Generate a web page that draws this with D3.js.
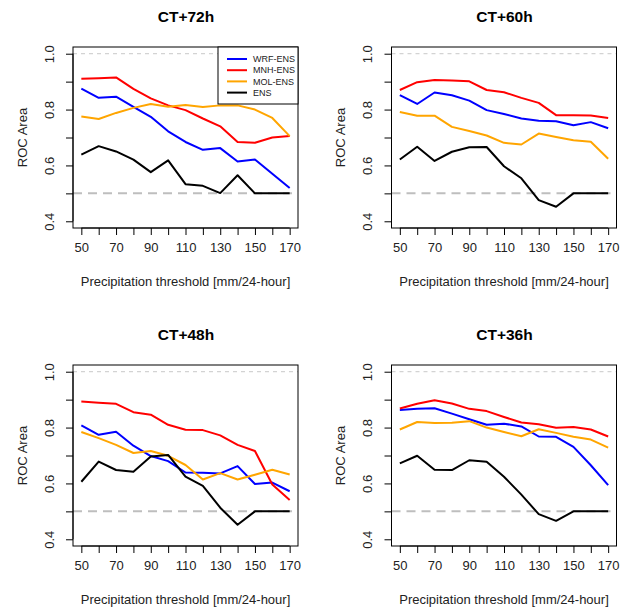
<!DOCTYPE html>
<html>
<head>
<meta charset="utf-8">
<script src="https://cdn.jsdelivr.net/npm/d3@7"></script>
<style>
  body { margin: 0; background: #fff; }
  svg { display: block; font-family: "Liberation Sans", Arial, Helvetica, sans-serif; }
</style>
</head>
<body>
<svg id="chart" width="631" height="608"></svg>
<script>
// thresholds (mm/24-hour)
const thresholds = [50, 60, 70, 80, 90, 100, 110, 120, 130, 140, 150, 160, 170];
const seriesNames = ['WRF-ENS', 'MNH-ENS', 'MOL-ENS', 'ENS'];
const seriesColors = ['#0000ff', '#ff0000', '#ffa500', '#000000'];
const panelTitles = ['CT+72h', 'CT+60h', 'CT+48h', 'CT+36h'];
const xTickLabels = [50, 70, 90, 110, 130, 150, 170];
const yTicks = [0.4, 0.5, 0.6, 0.7, 0.8, 0.9, 1.0];
const yTickLabels = [0.4, 0.6, 0.8, 1.0];

// CT+72h
const wrf72 = [0.875, 0.842, 0.846, 0.810, 0.774, 0.722, 0.684, 0.656, 0.662, 0.614, 0.621, 0.570, 0.519];
const mnh72 = [0.910, 0.912, 0.915, 0.874, 0.840, 0.815, 0.798, 0.768, 0.740, 0.684, 0.681, 0.700, 0.705];
const mol72 = [0.775, 0.766, 0.788, 0.806, 0.820, 0.810, 0.816, 0.809, 0.815, 0.815, 0.800, 0.770, 0.705];
const ens72 = [0.639, 0.669, 0.650, 0.621, 0.576, 0.618, 0.533, 0.527, 0.501, 0.565, 0.500, 0.500, 0.500];

// CT+60h
const wrf60 = [0.852, 0.820, 0.861, 0.851, 0.832, 0.798, 0.784, 0.768, 0.760, 0.758, 0.744, 0.755, 0.733];
const mnh60 = [0.870, 0.898, 0.906, 0.904, 0.901, 0.870, 0.862, 0.842, 0.824, 0.780, 0.780, 0.779, 0.770];
const mol60 = [0.791, 0.778, 0.778, 0.738, 0.723, 0.707, 0.681, 0.675, 0.714, 0.702, 0.690, 0.685, 0.624];
const ens60 = [0.621, 0.667, 0.616, 0.649, 0.665, 0.666, 0.597, 0.554, 0.476, 0.452, 0.500, 0.500, 0.500];

// CT+48h
const wrf48 = [0.808, 0.774, 0.785, 0.735, 0.698, 0.680, 0.639, 0.638, 0.636, 0.662, 0.598, 0.603, 0.572];
const mnh48 = [0.893, 0.889, 0.885, 0.855, 0.846, 0.810, 0.792, 0.791, 0.772, 0.738, 0.716, 0.596, 0.541];
const mol48 = [0.784, 0.762, 0.738, 0.709, 0.716, 0.699, 0.666, 0.614, 0.637, 0.614, 0.631, 0.649, 0.632];
const ens48 = [0.606, 0.678, 0.648, 0.642, 0.696, 0.702, 0.624, 0.591, 0.513, 0.452, 0.500, 0.500, 0.500];

// CT+36h
const wrf36 = [0.863, 0.867, 0.869, 0.850, 0.830, 0.810, 0.814, 0.804, 0.768, 0.767, 0.731, 0.665, 0.594];
const mnh36 = [0.868, 0.885, 0.898, 0.886, 0.867, 0.859, 0.838, 0.818, 0.812, 0.799, 0.802, 0.793, 0.768];
const mol36 = [0.793, 0.820, 0.816, 0.817, 0.823, 0.800, 0.784, 0.769, 0.794, 0.781, 0.767, 0.757, 0.728];
const ens36 = [0.672, 0.699, 0.649, 0.648, 0.683, 0.678, 0.624, 0.560, 0.490, 0.466, 0.500, 0.500, 0.500];

const panelData = [
    [wrf72, mnh72, mol72, ens72],
    [wrf60, mnh60, mol60, ens60],
    [wrf48, mnh48, mol48, ens48],
    [wrf36, mnh36, mol36, ens36]
];

const svg = d3.select('#chart');

// plot box size and where each box sits
const boxW = 225, boxH = 181;
const boxLeft = [73, 391.5];
const boxTop = [47, 365];
const tickLen = 7;

// R style 4% padding around the data range
const x = d3.scaleLinear().domain([45.2, 174.8]).range([0, boxW]);
const y = d3.scaleLinear().domain([0.376, 1.024]).range([boxH, 0]);

const line = d3.line()
    .x(function (d, i) { return x(thresholds[i]) })
    .y(function (d) { return y(d) });

panelData.forEach(function (series, p) {
    const col = p % 2, row = Math.floor(p / 2);
    const g = svg.append('g')
        .attr('transform', 'translate(' + boxLeft[col] + ',' + boxTop[row] + ')');

    // reference lines
    g.append('line')
        .attr('x1', 0).attr('x2', boxW)
        .attr('y1', y(1.0)).attr('y2', y(1.0))
        .attr('stroke', '#c8c8c8').attr('stroke-width', 1)
        .attr('stroke-dasharray', '4,4');
    g.append('line')
        .attr('x1', 0).attr('x2', boxW)
        .attr('y1', y(0.5)).attr('y2', y(0.5))
        .attr('stroke', '#bebebe').attr('stroke-width', 2)
        .attr('stroke-dasharray', '9,6');

    // series
    series.forEach(function (vals, s) {
        g.append('path')
            .datum(vals)
            .attr('d', line)
            .attr('fill', 'none')
            .attr('stroke', seriesColors[s])
            .attr('stroke-width', 2)
            .attr('stroke-linejoin', 'round');
    });

    // box
    g.append('rect')
        .attr('x', 0).attr('y', 0)
        .attr('width', boxW).attr('height', boxH)
        .attr('fill', 'none').attr('stroke', '#000').attr('stroke-width', 1);

    // x axis
    const xAxis = d3.axisBottom(x)
        .tickValues(thresholds)
        .tickSize(tickLen)
        .tickPadding(8)
        .tickFormat(function (d) { return xTickLabels.indexOf(d) > -1 ? d : '' });
    const xg = g.append('g').attr('transform', 'translate(0,' + boxH + ')').call(xAxis);
    xg.select('.domain').attr('d', 'M' + x(50) + ',0H' + x(170));

    // y axis
    const yAxis = d3.axisLeft(y)
        .tickValues(yTicks)
        .tickSize(tickLen)
        .tickFormat(function (d) {
            return yTickLabels.some(function (v) { return Math.abs(v - d) < 1e-9 }) ? d3.format('.1f')(d) : '';
        });
    const yg = g.append('g').call(yAxis);
    yg.select('.domain').attr('d', 'M0,' + y(0.4) + 'V' + y(1.0));
    yg.selectAll('.tick text')
        .attr('x', null).attr('dy', null)
        .attr('text-anchor', 'middle')
        .attr('transform', 'translate(-24,0) rotate(-90)')
        .attr('dy', '0.35em');

    g.selectAll('.tick text').attr('font-size', 13).attr('fill', '#222')
        .attr('font-family', '"Liberation Sans", Arial, sans-serif');
    g.selectAll('.tick line, .domain').attr('stroke', '#000');

    // titles
    g.append('text')
        .attr('x', boxW / 2 + 0.5).attr('y', -25)
        .attr('text-anchor', 'middle')
        .attr('font-size', 15.5).attr('font-weight', 'bold')
        .text(panelTitles[p]);
    g.append('text')
        .attr('x', boxW / 2).attr('y', boxH + 58)
        .attr('text-anchor', 'middle')
        .attr('font-size', 13).attr('fill', '#222')
        .text('Precipitation threshold [mm/24-hour]');
    g.append('text')
        .attr('transform', 'translate(-51,' + (boxH / 2) + ') rotate(-90)')
        .attr('text-anchor', 'middle')
        .attr('dy', '0.35em')
        .attr('font-size', 13).attr('fill', '#222')
        .text('ROC Area');

    // legend only on the first panel
    if (p === 0) {
        const lg = g.append('g').attr('transform', 'translate(' + (boxW - 80) + ',0)');
        lg.append('rect')
            .attr('width', 80).attr('height', 57)
            .attr('fill', '#fff').attr('stroke', '#000').attr('stroke-width', 1);
        seriesNames.forEach(function (name, s) {
            const ly = 12 + s * 11.2;
            lg.append('line')
                .attr('x1', 9).attr('x2', 29)
                .attr('y1', ly).attr('y2', ly)
                .attr('stroke', seriesColors[s]).attr('stroke-width', 2);
            lg.append('text')
                .attr('x', 35).attr('y', ly)
                .attr('dy', '0.35em')
                .attr('font-size', 9).attr('fill', '#222')
                .text(name);
        });
    }
});
</script>
</body>
</html>
